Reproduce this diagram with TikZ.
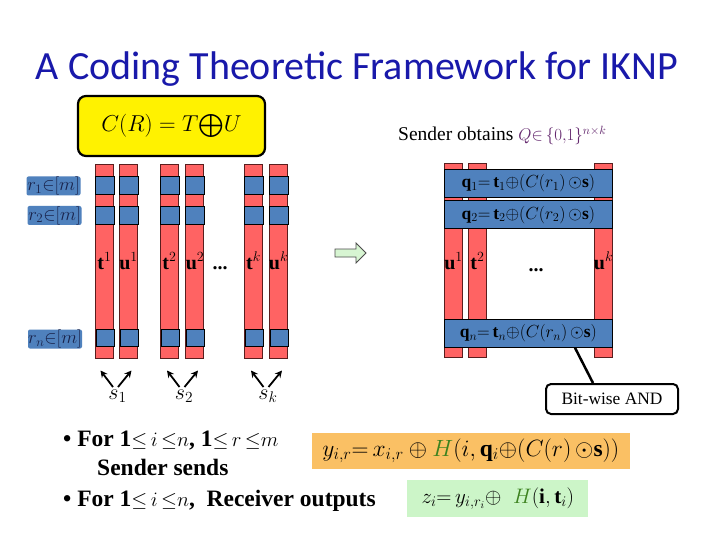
\RequirePackage{fix-cm}
\documentclass[tikz,border=0pt]{standalone}
\usepackage{amsmath,amssymb}
\usepackage{fontspec}
\setmainfont{Liberation Serif}
\newfontfamily\titlefont{Carlito}
\usetikzlibrary{arrows.meta,calc}
\definecolor{colred}{RGB}{255,99,99}
\definecolor{coledge}{RGB}{90,30,30}
\definecolor{blueb}{RGB}{79,129,189}
\definecolor{navy}{RGB}{25,35,75}
\definecolor{titleblue}{RGB}{25,25,170}
\definecolor{purp}{RGB}{100,40,110}
\definecolor{hgreen}{RGB}{60,130,30}
\definecolor{orangebox}{RGB}{250,192,100}
\definecolor{greenbox}{RGB}{204,245,200}
\definecolor{arrowgreen}{RGB}{215,245,210}
\newcommand{\bmath}[1]{{\fontsize{20.5}{20.5}\selectfont$#1$}}
\begin{document}
\begin{tikzpicture}[x=1pt,y=-1pt,
  col/.style={draw=coledge, line width=0.8pt, fill=colred, minimum width=18pt, minimum height=194pt, inner sep=0pt, rectangle},
  sq/.style={draw=black, line width=1pt, fill=blueb, minimum width=18.5pt, minimum height=17.5pt, inner sep=0pt},
  rlab/.style={fill=blueb, rounded corners=2pt, minimum width=54pt, minimum height=19pt, inner sep=0pt, text=navy, font=\fontsize{18.5}{18.5}\selectfont},
  clab/.style={font=\fontsize{20}{20}\selectfont, inner sep=0pt, anchor=base},
  qbar/.style={draw=black, line width=1pt, fill=blueb, minimum width=168pt, minimum height=28pt, inner sep=0pt, font=\fontsize{17.5}{17.5}\selectfont},
  slab/.style={font=\fontsize{22}{22}\selectfont, inner sep=1pt},
  sarr/.style={line width=1.8pt, -{Stealth[length=7pt,width=7pt]}},
  bullet/.style={anchor=base west, inner sep=0pt, font=\bfseries\fontsize{23.5}{23.5}\selectfont}
]
\fill[white] (0,0) rectangle (720,540);
\useasboundingbox (0,0) rectangle (720,540);

% title
\node[anchor=base, inner sep=0pt, text=titleblue, font=\titlefont\fontsize{40}{40}\selectfont] (title) at (357,80) {A Coding Theoretic Framework for IKNP};

% yellow box
\node[draw=black, line width=2.2pt, fill=yellow, rounded corners=8pt, minimum width=187pt, minimum height=60pt, inner sep=0pt, font=\fontsize{23}{23}\selectfont] (cr) at (171.5,126) {$C(R) = T{\textstyle\bigoplus}U$};

% left columns
\foreach \n/\x in {t1/104.5, u1/128.3, t2/169.3, u2/194.3, tk/253.3, uk/278.3} {
  \node[col] (\n) at (\x,261) {};
  \node[sq] (\n-a) at (\x+0.5,185.3) {};
  \node[sq] (\n-b) at (\x+0.5,215.3) {};
  \node[sq] (\n-n) at (\x+1,338) {};
}
\node[clab] (lt1) at (104.5,269) {\textbf{t}$^1$};
\node[clab] (lu1) at (128.5,269) {\textbf{u}$^1$};
\node[clab] (lt2) at (169.5,269) {\textbf{t}$^2$};
\node[clab] (lu2) at (195,269) {\textbf{u}$^2$};
\node[clab] (ldots) at (220,269) {\textbf{...}};
\node[clab] (ltk) at (253.5,269) {\textbf{t}$^k$};
\node[clab] (luk) at (278.5,269) {\textbf{u}$^k$};

% row labels
\node[rlab] (r1) at (53.5,186) {$r_1{\in}[m]$};
\node[rlab] (r2) at (54.5,215.5) {$r_2{\in}[m]$};
\node[rlab] (rn) at (55,339) {$r_n{\in}[m]$};

% s labels and arrows
\node[slab] (s1) at (117.5,396) {$s_1$};
\node[slab] (s2) at (184,396) {$s_2$};
\node[slab] (sk) at (268,396) {$s_k$};
\foreach \s in {s1,s2,sk} {
  \draw[sarr] ($(\s.center)+(-4.5,-9)$) -- ++(-12.5,-16.5);
  \draw[sarr] ($(\s.center)+(0.5,-9)$) -- ++(13.5,-16.5);
}

% green block arrow
\draw[draw=black!70, line width=0.8pt, fill=arrowgreen] (335,249) -- (356,249) -- (356,243) -- (366,253) -- (356,263) -- (356,257) -- (335,257) -- cycle;

% sender obtains
\node[anchor=base west, inner sep=0pt, font=\fontsize{19.5}{19.5}\selectfont] (so) at (398,141) {Sender obtains \textcolor{purp}{\fontsize{17}{17}\selectfont$Q\mathord{\in}\,\{0{,}1\}^{\scriptstyle n\times k}$}};

% right columns
\node[col] (ru1) at (453.3,260.3) {};
\node[col] (rt2) at (477.5,260.3) {};
\node[col] (ruk) at (603.3,260.3) {};
\node[qbar] (q1) at (528.3,183.3) {$\mathbf{q}_1{=}\,\mathbf{t}_1{\oplus}(C(r_1)\,{\odot}\mathbf{s})$};
\node[qbar] (q2) at (528.3,214.7) {$\mathbf{q}_2{=}\,\mathbf{t}_2{\oplus}(C(r_2)\,{\odot}\mathbf{s})$};
\node[qbar] (qn) at (528.3,333.3) {$\mathbf{q}_n{=}\,\mathbf{t}_n{\oplus}(C(r_n)\,{\odot}\mathbf{s})$};
\node[clab] (lru1) at (453.5,269) {\textbf{u}$^1$};
\node[clab] (lrt2) at (477.5,269) {\textbf{t}$^2$};
\node[clab] (lrdots) at (536,271) {\textbf{...}};
\node[clab] (lruk) at (603.5,269) {\textbf{u}$^k$};

% bit-wise AND
\node[draw=black, line width=2pt, rounded corners=5pt, fill=white, minimum width=132pt, minimum height=30pt, inner sep=0pt, font=\fontsize{17.4}{17.4}\selectfont] (bw) at (612,399) {Bit-wise AND};
\draw[line width=2.5pt] ($(qn.south)+(46.7,0)$) -- ($(bw.north)+(-19,0)$);

% bullets
\node[bullet] (b1) at (63,446) {\textbullet\ For 1\bmath{\mathord{\le}\,i\,\mathord{\le}n}, 1\bmath{\mathord{\le}\,r\,\mathord{\le}m}};
\node[bullet] (b2) at (97,475) {Sender sends};
\node[bullet] (b3) at (63,506) {\textbullet\ For 1\bmath{\mathord{\le}\,i\,\mathord{\le}n},\ \ Receiver outputs};

% formula boxes
\node[fill=orangebox, minimum width=318pt, minimum height=36pt, inner sep=0pt, font=\fontsize{23.5}{23.5}\selectfont] (yb) at (470.8,450.7) {$y_{i,r}{=}\,x_{i,r} \oplus \textcolor{hgreen}{H}(i, \mathbf{q}_i{\oplus}(C(r)\,{\odot}\mathbf{s}))$};
\node[fill=greenbox, minimum width=181pt, minimum height=36.7pt, inner sep=0pt, font=\fontsize{21}{21}\selectfont] (zb) at (497.8,498.3) {$z_i{=}\,y_{i,r_i}{\oplus}\;\; \textcolor{hgreen}{H}(\mathbf{i}, \mathbf{t}_i)$\hspace{4pt}};
\end{tikzpicture}
\end{document}
